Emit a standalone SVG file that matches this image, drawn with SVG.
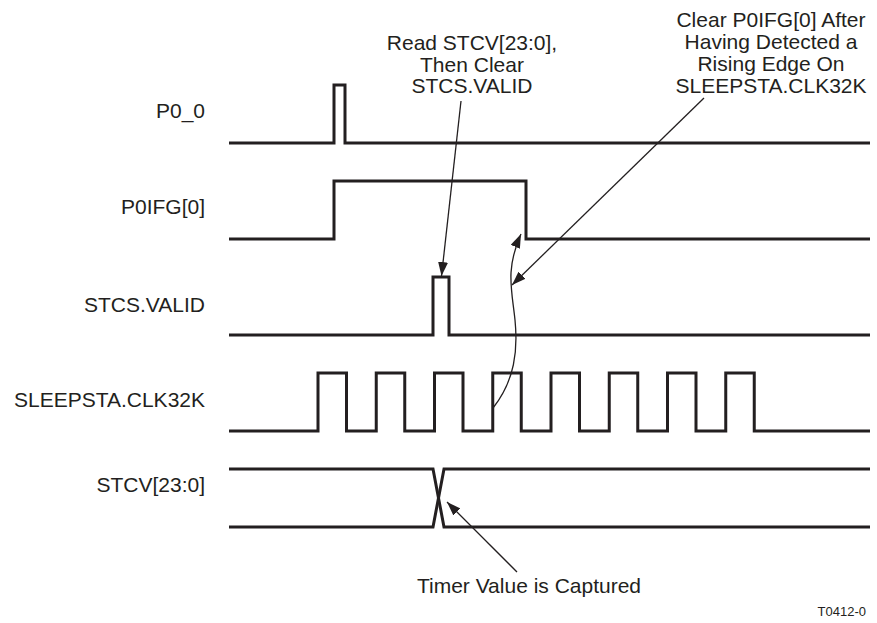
<svg xmlns="http://www.w3.org/2000/svg" width="877" height="623" viewBox="0 0 877 623">
<style>
text{font-family:"Liberation Sans",Arial,sans-serif;font-size:21px;fill:#231f20}
.lbl{text-anchor:end}
.note{text-anchor:middle}
.sig{fill:none;stroke:#231f20;stroke-width:3;stroke-linejoin:miter;stroke-linecap:butt}
.arr{fill:none;stroke:#231f20;stroke-width:1.3}
</style>
<defs>
<marker id="ah" viewBox="0 0 14 10" refX="14" refY="5" markerWidth="14" markerHeight="10" markerUnits="userSpaceOnUse" orient="auto">
<path d="M0,0 L14,5 L0,10 Z" fill="#231f20"/>
</marker>
</defs>
<rect width="877" height="623" fill="#fff"/>
<g id="p0_0">
<text class="lbl" x="205" y="118">P0_0</text>
<path class="sig" d="M229,143 H334 V85 H345 V143 H870"/>
</g>
<g id="p0ifg">
<text class="lbl" x="205" y="214">P0IFG[0]</text>
<path class="sig" d="M229,239 H334 V181 H526 V239 H870"/>
</g>
<g id="stcs_valid">
<text class="lbl" x="205" y="312">STCS.VALID</text>
<path class="sig" d="M229,335 H433 V277 H449 V335 H870"/>
</g>
<g id="clk32k">
<text class="lbl" x="205" y="407">SLEEPSTA.CLK32K</text>
<path class="sig" d="M229,431 H318 V373 H346.5 V431 H376.25 V373 H404.75 V431 H434.5 V373 H463 V431 H492.75 V373 H521.25 V431 H551 V373 H579.5 V431 H609.25 V373 H637.75 V431 H667.5 V373 H696 V431 H725.75 V373 H754.25 V431 H870"/>
</g>
<g id="stcv">
<text class="lbl" x="205" y="492">STCV[23:0]</text>
<path class="sig" d="M229,469 H433 L444,527 H870"/>
<path class="sig" d="M229,527 H433 L444,469 H870"/>
</g>
<g id="note_read">
<text class="note" x="472" y="50">Read STCV[23:0],</text>
<text class="note" x="472" y="71.5">Then Clear</text>
<text class="note" x="472" y="93">STCS.VALID</text>
</g>
<g id="note_clear">
<text class="note" x="771" y="27">Clear P0IFG[0] After</text>
<text class="note" x="771" y="49">Having Detected a</text>
<text class="note" x="771" y="71">Rising Edge On</text>
<text class="note" x="771" y="93">SLEEPSTA.CLK32K</text>
</g>
<g id="note_timer">
<text class="note" x="529" y="593">Timer Value is Captured</text>
</g>
<text x="866" y="616" style="font-size:13px;text-anchor:end">T0412-0</text>
<g id="connectors">
<path class="arr" d="M461,101 L441.5,276" marker-end="url(#ah)"/>
<path class="arr" d="M704,98 L512,285" marker-end="url(#ah)"/>
<path class="arr" d="M493,408 C515,380 518,350 515,320 S505,270 521,234" marker-end="url(#ah)"/>
<path class="arr" d="M517,572 L447,502" marker-end="url(#ah)"/>
</g>
</svg>
